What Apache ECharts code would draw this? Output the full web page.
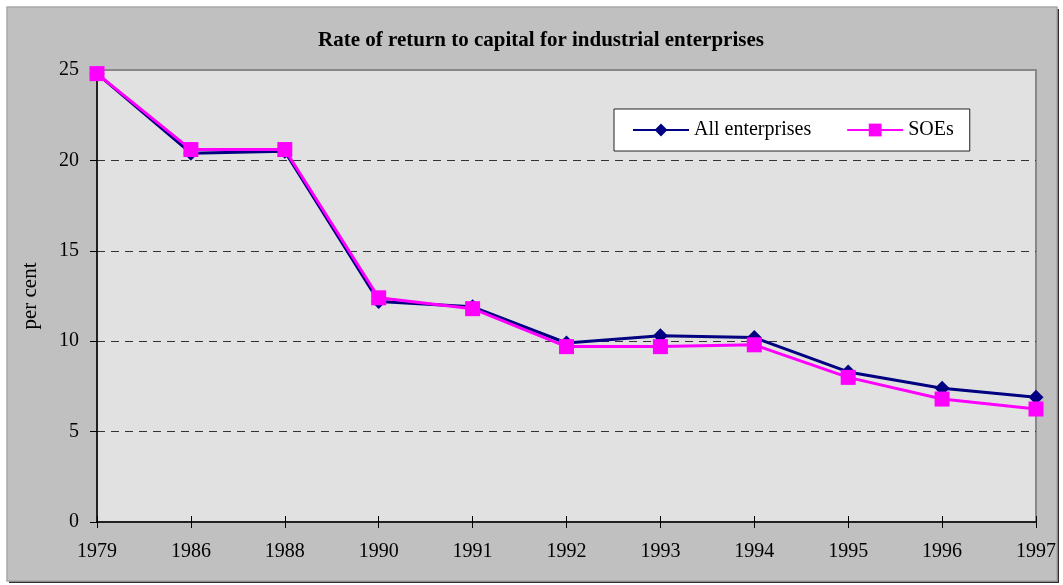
<!DOCTYPE html>
<html>
<head>
<meta charset="utf-8">
<script src="https://cdn.jsdelivr.net/npm/echarts@6/dist/echarts.min.js"></script>
<style>
  html, body { margin: 0; padding: 0; background: #ffffff; }
  #chart { width: 1063px; height: 585px; }
</style>
</head>
<body>
<div id="chart"></div>
<script>
// Years shown on the category axis
const years = ['1979', '1986', '1988', '1990', '1991', '1992', '1993', '1994', '1995', '1996', '1997'];
// Rate of return to capital, per cent
const allEnterprises = [24.8, 20.4, 20.5, 12.2, 11.9, 9.9, 10.3, 10.2, 8.3, 7.4, 6.9];
const soes = [24.8, 20.6, 20.6, 12.4, 11.8, 9.7, 9.7, 9.8, 8.0, 6.8, 6.25];
// Value-axis ticks
const yMin = 0, yMax = 25, yStep = 5;

const serif = '"Liberation Serif", "DejaVu Serif", serif';
const chart = echarts.init(document.getElementById('chart'));

chart.setOption({
  backgroundColor: '#ffffff',
  animation: false,
  graphic: [
    {
      type: 'rect', z: -10, silent: true,
      shape: { x: 9, y: 9, width: 1050, height: 574 },
      style: { fill: '#303030' }
    },
    {
      type: 'rect', z: -9, silent: true,
      shape: { x: 7, y: 7, width: 1050, height: 574 },
      style: { fill: '#c0c0c0', stroke: '#a8a8a8', lineWidth: 1.5 }
    }
  ],
  title: {
    text: 'Rate of return to capital for industrial enterprises',
    left: 536, top: 25, textAlign: 'center',
    textStyle: { fontFamily: serif, fontSize: 21, fontWeight: 'bold', color: '#000' }
  },
  legend: {
    left: 614, top: 109,
    backgroundColor: '#ffffff', borderColor: '#222', borderWidth: 1,
    padding: [11, 16, 11, 18],
    itemGap: 35, itemWidth: 56, itemHeight: 16,
    textStyle: { fontFamily: serif, fontSize: 20, color: '#000' },
    data: ['All enterprises', 'SOEs']
  },
  grid: {
    left: 97, right: 27, top: 70, bottom: 63,
    show: true, backgroundColor: '#e1e1e1', borderColor: '#888888', borderWidth: 2
  },
  xAxis: [
    {
      type: 'category', data: years, boundaryGap: false,
      axisLine: { lineStyle: { color: '#000', width: 1.5 } },
      axisTick: { show: true, alignWithLabel: true, length: 6, lineStyle: { color: '#000' } },
      axisLabel: { fontFamily: serif, fontSize: 20, color: '#000', margin: 20 },
      splitLine: { show: false }
    },
    {
      type: 'category', data: years, boundaryGap: false, position: 'bottom',
      axisLine: { show: false },
      axisTick: { show: true, inside: true, length: 6, lineStyle: { color: '#000' } },
      axisLabel: { show: false },
      splitLine: { show: false }
    }
  ],
  yAxis: {
    type: 'value', min: yMin, max: yMax, interval: yStep,
    name: 'per cent', nameLocation: 'middle', nameGap: 56, nameRotate: 90,
    nameTextStyle: { fontFamily: serif, fontSize: 21, color: '#000' },
    axisLine: { show: true, lineStyle: { color: '#000', width: 1.5 } },
    axisTick: { show: true, length: 7, lineStyle: { color: '#000' } },
    axisLabel: { fontFamily: serif, fontSize: 20, color: '#000', margin: 18 },
    splitLine: {
      show: true, showMinLine: false, showMaxLine: false,
      lineStyle: { color: '#333', type: [8, 6], width: 1 }
    }
  },
  series: [
    {
      name: 'All enterprises', type: 'line', data: allEnterprises,
      symbol: 'diamond', symbolSize: 15,
      lineStyle: { color: '#000080', width: 3 },
      itemStyle: { color: '#000080' },
      z: 3
    },
    {
      name: 'SOEs', type: 'line', data: soes,
      symbol: 'rect', symbolSize: 15,
      lineStyle: { color: '#ff00ff', width: 3 },
      itemStyle: { color: '#ff00ff' },
      z: 4
    }
  ]
});
</script>
</body>
</html>
